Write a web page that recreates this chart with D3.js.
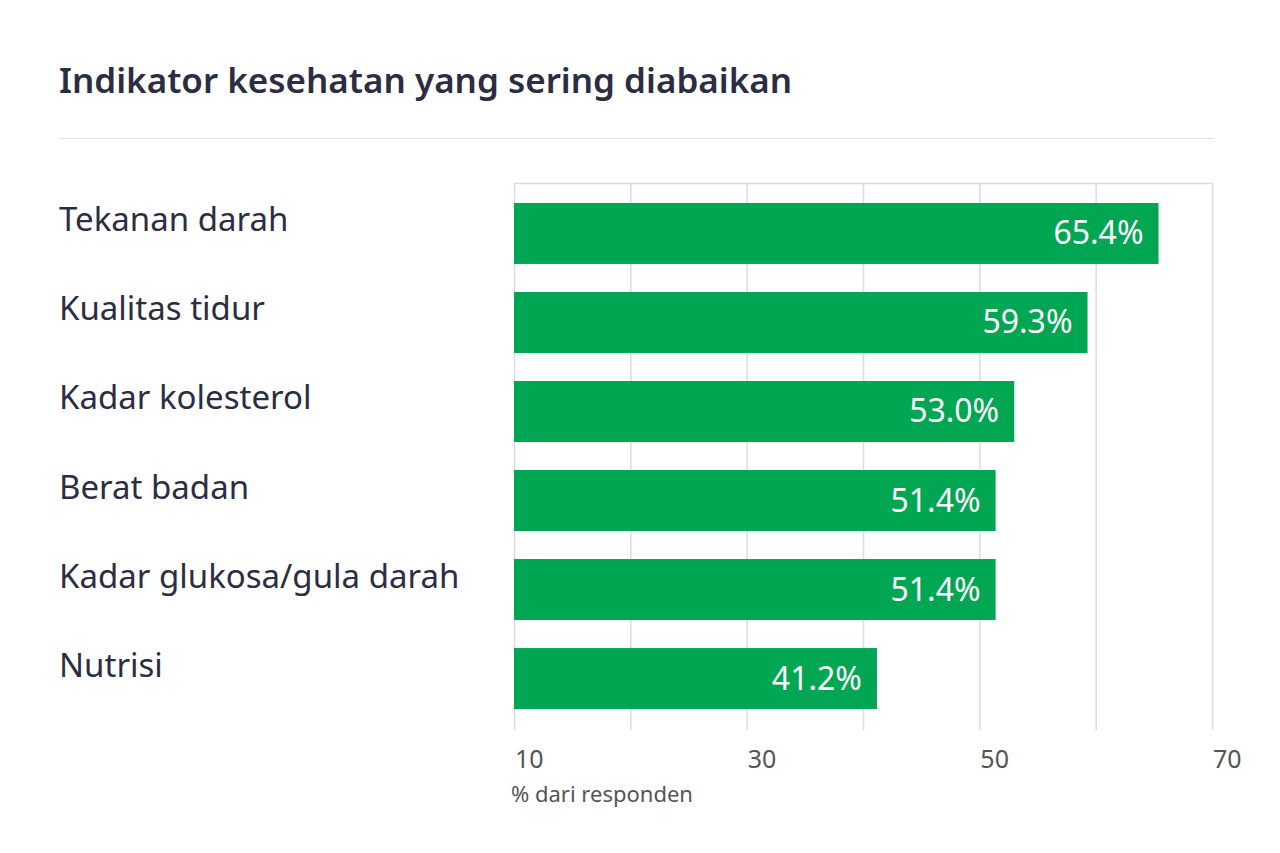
<!DOCTYPE html>
<html><head><meta charset="utf-8">
<script src="https://cdn.jsdelivr.net/npm/d3@7"></script>
<style>body{margin:0;background:#fff}</style>
</head><body>
<svg id="c" width="1280" height="853"></svg>
<script>
const categories = ["Tekanan darah","Kualitas tidur","Kadar kolesterol","Berat badan","Kadar glukosa/gula darah","Nutrisi"];
const values = [65.4,59.3,53.0,51.4,51.4,41.2];
const tickLabels = [10,30,50,70];
const gridTicks = [10,20,30,40,50,60,70];

const svg = d3.select("#c");
const font = "'Noto Sans', sans-serif";
const ink = "#2b2d42";
const L = 514, R = 1212, T = 183, B = 730;
const x = d3.scaleLinear().domain([10,70]).range([L, R]);
const y = d3.scaleBand().domain(categories).range([189, 723]).paddingInner(0.315).paddingOuter(0.157);

svg.append("text").attr("x",59).attr("y",93).attr("font-family",font).attr("font-weight",600)
  .attr("font-size",35).attr("fill",ink).text("Indikator kesehatan yang sering diabaikan");
svg.append("line").attr("x1",59).attr("x2",1214).attr("y1",138.5).attr("y2",138.5).attr("stroke","#e3e3e3");

svg.append("g").selectAll("line").data(gridTicks).join("line")
  .attr("x1",d=>x(d)+0.5).attr("x2",d=>x(d)+0.5).attr("y1",T).attr("y2",B)
  .attr("stroke","#dcdcdc").attr("stroke-width",1.5);
svg.append("line").attr("x1",L).attr("x2",R).attr("y1",T+0.5).attr("y2",T+0.5).attr("stroke","#dcdcdc").attr("stroke-width",1.5);

svg.append("g").selectAll("rect").data(values).join("rect")
  .attr("x",L).attr("y",(d,i)=>y(categories[i])).attr("height",y.bandwidth())
  .attr("width",d=>x(d)-L).attr("fill","#00a651");

svg.append("g").selectAll("text").data(values).join("text")
  .attr("x",d=>x(d)-15).attr("y",(d,i)=>y(categories[i])+y.bandwidth()/2+11)
  .attr("text-anchor","end").attr("font-family",font).attr("font-size",32).attr("fill","#fff")
  .text(d=>d.toFixed(1)+"%");

svg.append("g").selectAll("text").data(categories).join("text")
  .attr("x",59).attr("y",d=>y(d)+y.bandwidth()/2-2).attr("font-family",font).attr("font-size",33)
  .attr("fill",ink).text(d=>d);

svg.append("g").selectAll("text").data(tickLabels).join("text")
  .attr("x",d=>x(d)+1).attr("y",768).attr("font-family",font).attr("font-size",25)
  .attr("fill","#555").text(d=>d);
svg.append("text").attr("x",511).attr("y",802).attr("font-family",font).attr("font-size",22)
  .attr("fill","#555").text("% dari responden");
</script>
</body></html>
